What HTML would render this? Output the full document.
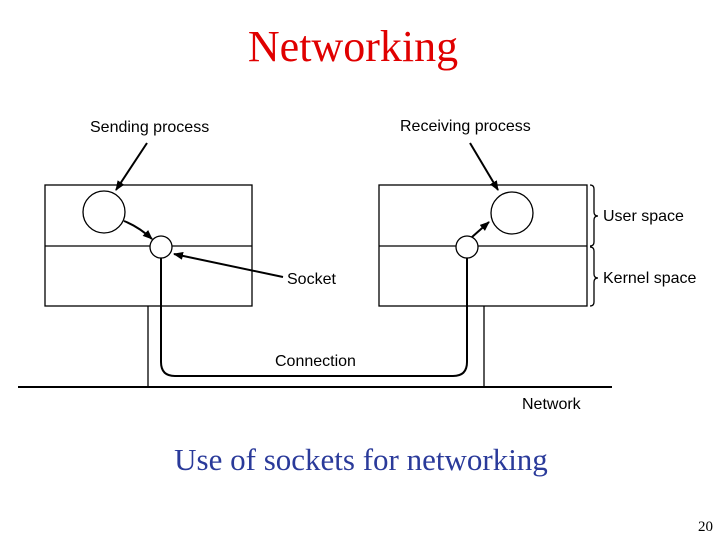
<!DOCTYPE html>
<html><head><style>
body{margin:0;width:720px;height:540px;background:#fff;overflow:hidden}
</style></head><body>
<svg width="720" height="540" viewBox="0 0 720 540" xmlns="http://www.w3.org/2000/svg">
<defs><marker id="a" markerWidth="10" markerHeight="8" refX="9" refY="4" orient="auto" markerUnits="userSpaceOnUse"><path d="M0,0 L10,4 L0,8 Z" fill="#000"/></marker></defs>
<text x="353" y="61" font-family="Liberation Serif" font-size="44" fill="#e00000" text-anchor="middle">Networking</text>
<g font-family="Liberation Sans" font-size="16" fill="#000">
<text x="90" y="132">Sending process</text>
<text x="400" y="131">Receiving process</text>
<text x="603" y="221">User space</text>
<text x="603" y="283">Kernel space</text>
<text x="287" y="284">Socket</text>
<text x="275" y="366">Connection</text>
<text x="522" y="409">Network</text>
</g>
<g fill="none" stroke="#000" stroke-width="1.3">
<rect x="45" y="185" width="207" height="121"/>
<line x1="45" y1="246" x2="252" y2="246"/>
<rect x="379" y="185" width="208" height="121"/>
<line x1="379" y1="246" x2="587" y2="246"/>
<circle cx="104" cy="212" r="21"/>
<circle cx="161" cy="247" r="11" fill="#fff"/>
<circle cx="512" cy="213" r="21"/>
<circle cx="467" cy="247" r="11" fill="#fff"/>
<line x1="148" y1="306" x2="148" y2="387"/>
<line x1="484" y1="306" x2="484" y2="387"/>
<path d="M590,185 q4,0 4,4 v23 q0,4 4,4 q-4,0 -4,4 v22 q0,4 -4,4"/>
<path d="M590,247 q4,0 4,4 v23 q0,4 4,4 q-4,0 -4,4 v20 q0,4 -4,4"/>
</g>
<line x1="18" y1="387" x2="612" y2="387" stroke="#000" stroke-width="2"/>
<path d="M161,258 V362 q0,14 14,14 H453 q14,0 14,-14 V258" fill="none" stroke="#000" stroke-width="2"/>
<g stroke="#000" stroke-width="2" fill="none" marker-end="url(#a)">
<line x1="147" y1="143" x2="116" y2="190"/>
<path d="M124,221 q15,6 28,18"/>
<line x1="283" y1="277" x2="174" y2="254"/>
<line x1="470" y1="143" x2="498" y2="190"/>
<line x1="472" y1="237" x2="489" y2="222"/>
</g>
<text x="361" y="470" font-family="Liberation Serif" font-size="31" fill="#2a3a9a" text-anchor="middle">Use of sockets for networking</text>
<text x="713" y="531" font-family="Liberation Serif" font-size="15" fill="#000" text-anchor="end">20</text>
</svg>
</body></html>
